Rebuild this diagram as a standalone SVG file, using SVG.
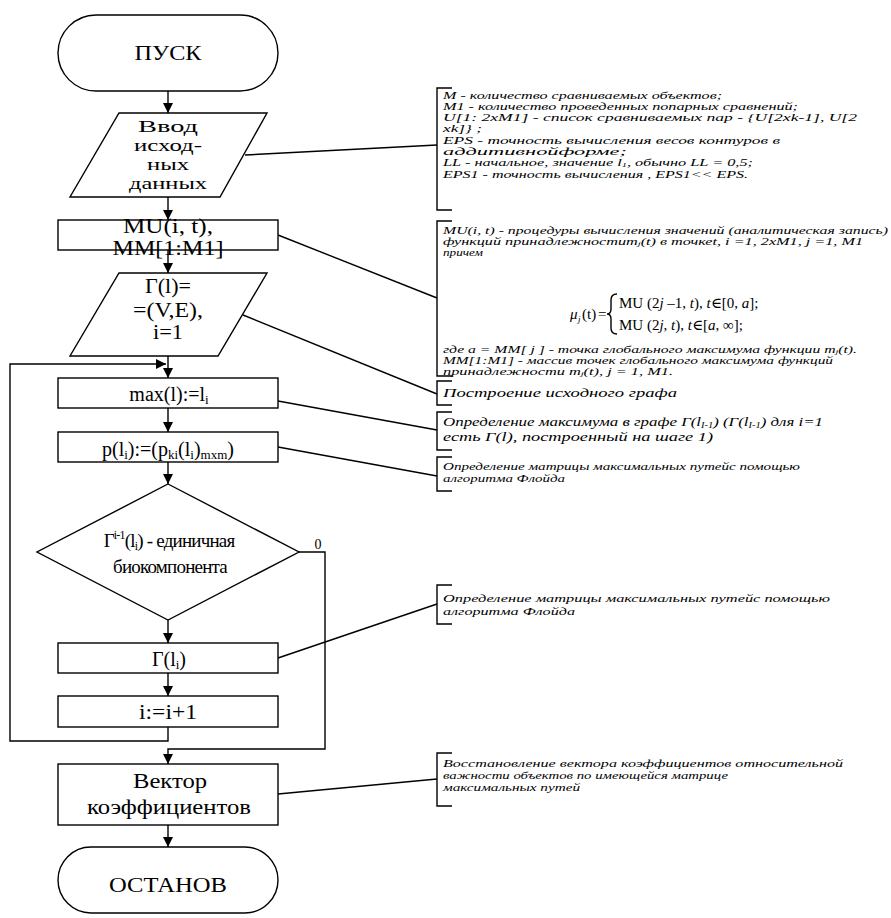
<svg xmlns="http://www.w3.org/2000/svg" width="891" height="918" viewBox="0 0 891 918">
<style>
.s{fill:#fff;stroke:#000;stroke-width:1.4}
.c{fill:none;stroke:#000;stroke-width:1.4}
.t{font-family:'Liberation Serif','DejaVu Serif','Times New Roman',serif;font-size:20px;fill:#000;text-anchor:middle}
.a{font-family:'Liberation Serif','DejaVu Serif','Times New Roman',serif;font-size:11px;font-style:italic;fill:#000}
.b{font-size:13px}
.i{font-size:16px}
.f{font-family:'Liberation Serif','DejaVu Serif','Times New Roman',serif;font-size:15px;fill:#000}
</style>
<defs>
<marker id="ar" viewBox="0 0 10 10" refX="10" refY="5" markerWidth="10" markerHeight="10" markerUnits="userSpaceOnUse" orient="auto">
<path d="M0,0 L10,5 L0,10 z" fill="#000"/>
</marker>
</defs>
<rect width="891" height="918" fill="#fff"/>
<g id="connectors">
<path class="c" d="M168,91 V113" marker-end="url(#ar)"/>
<path class="c" d="M168,197 V220" marker-end="url(#ar)"/>
<path class="c" d="M168,250 V273" marker-end="url(#ar)"/>
<path class="c" d="M168,356 V378" marker-end="url(#ar)"/>
<path class="c" d="M168,727 V741 H10 V364 H166" marker-end="url(#ar)"/>
<path class="c" d="M168,408 V432" marker-end="url(#ar)"/>
<path class="c" d="M168,462 V484" marker-end="url(#ar)"/>
<path class="c" d="M168,620 V643" marker-end="url(#ar)"/>
<path class="c" d="M168,673 V696" marker-end="url(#ar)"/>
<path class="c" d="M299,552 H325 V749 H168 V764" marker-end="url(#ar)"/>
<path class="c" d="M168,825 V847" marker-end="url(#ar)"/>
<path class="c" d="M245,155 L437,145"/>
<path class="c" d="M278,235 L437,298"/>
<path class="c" d="M243,315 L437,394"/>
<path class="c" d="M278,401 L437,430"/>
<path class="c" d="M278,447 L437,476"/>
<path class="c" d="M278,658 L437,604"/>
<path class="c" d="M278,794 L437,779"/>
</g>
<g id="start"><rect class="s" x="58" y="15" width="220" height="76" rx="38"/><text class="t" x="168" y="60" textLength="67" lengthAdjust="spacingAndGlyphs">ПУСК</text></g>
<g id="input"><path class="s" d="M119,113 H267 L220,197 H70 Z"/>
<text class="t i" x="168" y="132" textLength="60" lengthAdjust="spacingAndGlyphs">Ввод</text>
<text class="t i" x="168" y="151" textLength="68" lengthAdjust="spacingAndGlyphs">исход-</text>
<text class="t i" x="168" y="170" textLength="42" lengthAdjust="spacingAndGlyphs">ных</text>
<text class="t i" x="168" y="189" textLength="78" lengthAdjust="spacingAndGlyphs">данных</text></g>
<g id="mu"><rect class="s" x="58" y="220" width="220" height="30"/>
<text class="t" x="168" y="233" textLength="90" lengthAdjust="spacingAndGlyphs">MU(i, t),</text>
<text class="t" x="168" y="255" textLength="111" lengthAdjust="spacingAndGlyphs">MM[1:M1]</text></g>
<g id="graph"><path class="s" d="M119,273 H267 L218,356 H70 Z"/>
<text class="t" x="168" y="293" textLength="46" lengthAdjust="spacingAndGlyphs">Г(l)=</text>
<text class="t" x="168" y="317" textLength="70" lengthAdjust="spacingAndGlyphs">=(V,E),</text>
<text class="t" x="168" y="339" textLength="30" lengthAdjust="spacingAndGlyphs">i=1</text></g>
<g id="max"><rect class="s" x="58" y="378" width="220" height="30"/>
<text class="t" x="169" y="401">max(l):=l<tspan font-size="13" dy="3">i</tspan></text></g>
<g id="p"><rect class="s" x="58" y="432" width="220" height="30"/>
<text class="t" x="168" y="456">p(l<tspan font-size="13" dy="3">i</tspan><tspan dy="-3">):=(p</tspan><tspan font-size="13" dy="3">ki</tspan><tspan dy="-3">(l</tspan><tspan font-size="13" dy="3">i</tspan><tspan dy="-3">)</tspan><tspan font-size="13" dy="3">mxm</tspan><tspan dy="-3">)</tspan></text></g>
<g id="decision"><path class="s" d="M168,484 L299,552 L168,620 L37,552 Z"/>
<text class="t" x="169" y="547" style="font-size:19px" letter-spacing="-0.8">Г<tspan font-size="12" dy="-8">i-1</tspan><tspan dy="8">(l</tspan><tspan font-size="12" dy="3">i</tspan><tspan dy="-3">) - единичная</tspan></text>
<text class="t" x="170" y="573" style="font-size:19px" letter-spacing="-0.8">биокомпонента</text>
<text class="t" x="318" y="549" style="font-size:14px">0</text></g>
<g id="gamma"><rect class="s" x="58" y="643" width="220" height="30"/>
<text class="t" x="169" y="666">Г(l<tspan font-size="13" dy="3">i</tspan><tspan dy="-3">)</tspan></text></g>
<g id="inc"><rect class="s" x="58" y="696" width="220" height="31"/>
<text class="t" x="168" y="719" textLength="58" lengthAdjust="spacingAndGlyphs">i:=i+1</text></g>
<g id="vector"><rect class="s" x="58" y="764" width="220" height="61"/>
<text class="t" x="170" y="788" textLength="74" lengthAdjust="spacingAndGlyphs">Вектор</text>
<text class="t" x="169" y="814" textLength="164" lengthAdjust="spacingAndGlyphs">коэффициентов</text></g>
<g id="stop"><rect class="s" x="58" y="847" width="220" height="66" rx="33"/>
<text class="t" x="168" y="892" textLength="118" lengthAdjust="spacingAndGlyphs">ОСТАНОВ</text></g>
<g id="note1"><path class="c" d="M452,88 H437 V210 H452"/>
<text class="a" x="443" y="99" textLength="279" lengthAdjust="spacingAndGlyphs">M - количество сравниваемых объектов;</text>
<text class="a" x="443" y="110" textLength="355" lengthAdjust="spacingAndGlyphs">M1 - количество проведенных попарных сравнений;</text>
<text class="a" x="443" y="121" textLength="414" lengthAdjust="spacingAndGlyphs">U[1: 2xM1] - список сравниваемых пар - {U[2xk-1], U[2</text>
<text class="a" x="443" y="132" textLength="39" lengthAdjust="spacingAndGlyphs">xk]} ;</text>
<text class="a" x="443" y="144" textLength="337" lengthAdjust="spacingAndGlyphs">EPS - точность вычисления весов контуров в</text>
<text class="a" x="443" y="155" textLength="184" lengthAdjust="spacingAndGlyphs">аддитивнойформе;</text>
<text class="a" x="443" y="166" textLength="310" lengthAdjust="spacingAndGlyphs">LL - начальное, значение l<tspan font-size="7" dy="1">1</tspan><tspan dy="-1">, обычно LL = 0,5;</tspan></text>
<text class="a" x="443" y="178" textLength="305" lengthAdjust="spacingAndGlyphs">EPS1 - точность вычисления , EPS1&lt;&lt; EPS.</text></g>
<g id="note2"><path class="c" d="M452,221 H437 V376 H452"/>
<text class="a" x="443" y="234" textLength="445" lengthAdjust="spacingAndGlyphs">MU(i, t) - процедуры вычисления значений (аналитическая запись)</text>
<text class="a" x="443" y="245" textLength="420" lengthAdjust="spacingAndGlyphs">функций принадлежностиm<tspan font-size="7" dy="1">j</tspan><tspan dy="-1">(t) в точкеt, i =1, 2xM1, j =1, M1</tspan></text>
<text class="a" x="443" y="256" textLength="40" lengthAdjust="spacingAndGlyphs">причем</text>
<text class="f" x="570" y="319" font-style="italic">μ</text>
<text class="f" x="578" y="322" style="font-size:9px" font-style="italic">j</text>
<text class="f" x="582" y="319">(t)</text>
<text class="f" x="598" y="319">=</text>
<path class="c" d="M617,294 Q611,294 611,300 V309 Q611,314 607,314 Q611,314 611,319 V328 Q611,334 617,334" stroke-width="1.2"/>
<text class="f" x="619" y="308">MU (2<tspan font-style="italic">j</tspan> –1, <tspan font-style="italic">t</tspan>), <tspan font-style="italic">t</tspan>∈[0, <tspan font-style="italic">a</tspan>];</text>
<text class="f" x="619" y="330">MU (2<tspan font-style="italic">j</tspan>, <tspan font-style="italic">t</tspan>), <tspan font-style="italic">t</tspan>∈[<tspan font-style="italic">a</tspan>, ∞];</text>
<text class="a" x="443" y="353" textLength="414" lengthAdjust="spacingAndGlyphs">где a = MM[ j ] - точка глобального максимума функции m<tspan font-size="7" dy="1">j</tspan><tspan dy="-1">(t).</tspan></text>
<text class="a" x="443" y="364" textLength="390" lengthAdjust="spacingAndGlyphs">MM[1:M1] - массив точек глобального максимума функций</text>
<text class="a" x="443" y="375" textLength="230" lengthAdjust="spacingAndGlyphs">принадлежности m<tspan font-size="7" dy="1">j</tspan><tspan dy="-1">(t),  j = 1, M1.</tspan></text></g>
<g id="note3"><path class="c" d="M452,381 H437 V405 H452"/>
<text class="a b" x="443" y="397" textLength="234" lengthAdjust="spacingAndGlyphs">Построение исходного графа</text></g>
<g id="note4"><path class="c" d="M452,412 H437 V450 H452"/>
<text class="a b" x="443" y="426" textLength="380" lengthAdjust="spacingAndGlyphs">Определение максимума в графе Г(l<tspan font-size="8" dy="2">I-1</tspan><tspan dy="-2">) (Г(l</tspan><tspan font-size="8" dy="2">I-1</tspan><tspan dy="-2">) для i=1</tspan></text>
<text class="a b" x="443" y="441" textLength="270" lengthAdjust="spacingAndGlyphs">есть Г(l), построенный на шаге 1)</text></g>
<g id="note5"><path class="c" d="M452,457 H437 V491 H452"/>
<text class="a" x="443" y="470" textLength="357" lengthAdjust="spacingAndGlyphs">Определение матрицы максимальных путейс помощью</text>
<text class="a" x="443" y="482" textLength="122" lengthAdjust="spacingAndGlyphs">алгоритма Флойда</text></g>
<g id="note6"><path class="c" d="M452,585 H437 V624 H452"/>
<text class="a" x="443" y="602" textLength="387" lengthAdjust="spacingAndGlyphs">Определение матрицы максимальных путейс помощью</text>
<text class="a" x="443" y="615" textLength="132" lengthAdjust="spacingAndGlyphs">алгоритма Флойда</text></g>
<g id="note7"><path class="c" d="M452,753 H437 V806 H452"/>
<text class="a" x="443" y="767" textLength="400" lengthAdjust="spacingAndGlyphs">Восстановление вектора коэффициентов относительной</text>
<text class="a" x="443" y="779" textLength="285" lengthAdjust="spacingAndGlyphs">важности объектов по имеющейся матрице</text>
<text class="a" x="443" y="791" textLength="137" lengthAdjust="spacingAndGlyphs">максимальных путей</text></g>
</svg>
